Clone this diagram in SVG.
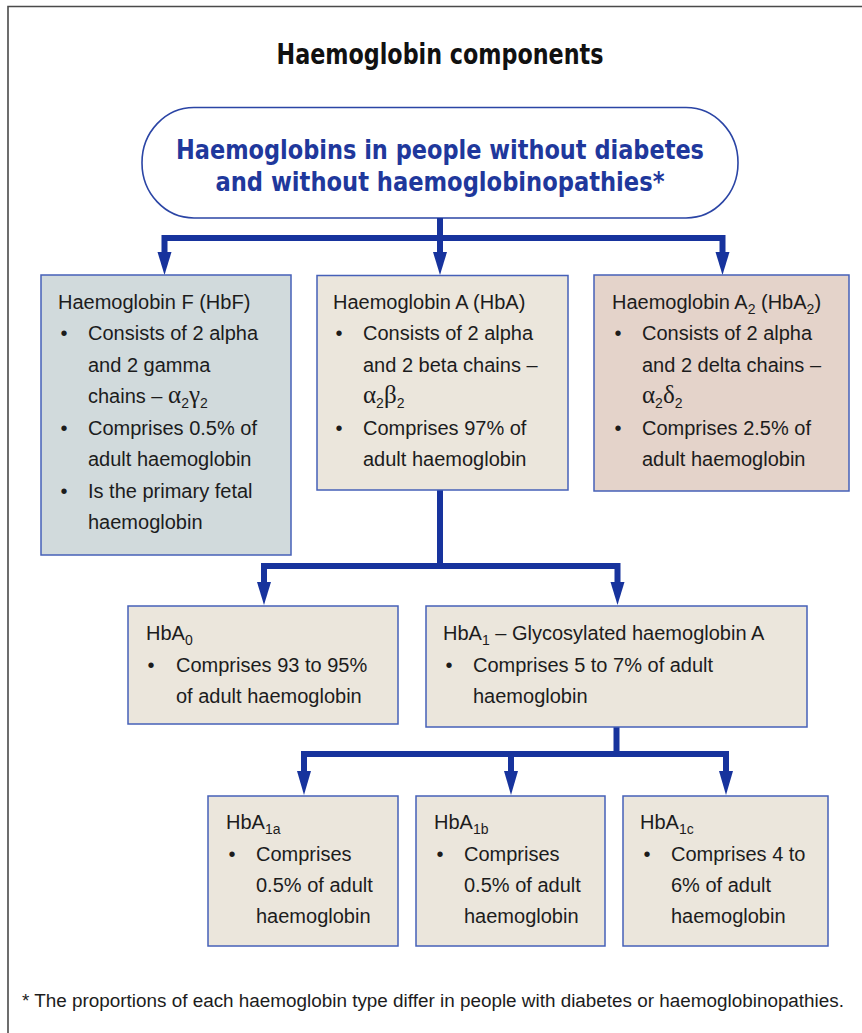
<svg xmlns="http://www.w3.org/2000/svg" width="862" height="1033" viewBox="0 0 862 1033">
<style>
.frame{fill:none;stroke:#4a4a4a;stroke-width:1.6}
.box{stroke:#4660b8;stroke-width:1.5}
.t{font-family:'Liberation Sans',Arial,Helvetica,sans-serif;font-size:20px;fill:#1c1c1c}
.sub{font-size:14px}
.gr{font-family:'Liberation Serif','Times New Roman',serif;font-size:25px}
.bul{text-anchor:middle}
.conn{fill:none;stroke:#17339d;stroke-width:6;stroke-linejoin:miter;stroke-linecap:butt}
.ah{fill:#17339d}
.hd{font-family:'DejaVu Sans Condensed','Liberation Sans Narrow','Liberation Sans',sans-serif;font-stretch:condensed;font-weight:bold;text-anchor:middle}
</style>
<rect width="862" height="1033" fill="#ffffff"/>
<path class="frame" d="M8,1033 V6.5 H862"/>

<text id="title" class="hd" x="440" y="64" font-size="29" fill="#111111" textLength="327" lengthAdjust="spacingAndGlyphs">Haemoglobin components</text>

<g id="node-root">
  <rect x="142" y="107.5" width="596" height="110.5" rx="52" ry="55" fill="#ffffff" stroke="#2b45a5" stroke-width="1.6"/>
  <text class="hd" x="440" y="158.5" font-size="27" fill="#1f389c" textLength="528" lengthAdjust="spacingAndGlyphs">Haemoglobins in people without diabetes</text>
  <text class="hd" x="440" y="190.5" font-size="27" fill="#1f389c" textLength="449" lengthAdjust="spacingAndGlyphs">and without haemoglobinopathies*</text>
</g>

<g id="connectors">
  <path class="conn" d="M440,218 V254"/>
  <path class="conn" d="M164.5,254 V238 H722.5 V254"/>
  <polygon class="ah" points="157.5,252 171.5,252 164.5,275"/>
  <polygon class="ah" points="433,252 447,252 440,275"/>
  <polygon class="ah" points="715.5,252 729.5,252 722.5,275"/>

  <path class="conn" d="M440,490 V566"/>
  <path class="conn" d="M264,584 V566 H617.5 V584"/>
  <polygon class="ah" points="257,582 271,582 264,605"/>
  <polygon class="ah" points="610.5,582 624.5,582 617.5,605"/>

  <path class="conn" d="M616.5,727 V754"/>
  <path class="conn" d="M304,773 V754 H726 V773"/>
  <path class="conn" d="M511,754 V773"/>
  <polygon class="ah" points="297,771 311,771 304,795"/>
  <polygon class="ah" points="504,771 518,771 511,795"/>
  <polygon class="ah" points="719,771 733,771 726,795"/>
</g>

<g id="node-hbf">
  <rect class="box" x="41" y="275" width="250" height="280" fill="#d1dadc"/>
  <text class="t" x="58" y="309">Haemoglobin F (HbF)</text>
  <text class="t bul" x="64" y="340">•</text>
  <text class="t" x="88" y="340">Consists of 2 alpha</text>
  <text class="t" x="88" y="371.5">and 2 gamma</text>
  <text class="t" x="88" y="403">chains – <tspan class="gr">α</tspan><tspan class="sub" dy="5">2</tspan><tspan class="gr" dy="-5">γ</tspan><tspan class="sub" dy="5">2</tspan></text>
  <text class="t bul" x="64" y="434.5">•</text>
  <text class="t" x="88" y="434.5">Comprises 0.5% of</text>
  <text class="t" x="88" y="466">adult haemoglobin</text>
  <text class="t bul" x="64" y="497.5">•</text>
  <text class="t" x="88" y="497.5">Is the primary fetal</text>
  <text class="t" x="88" y="529">haemoglobin</text>
</g>

<g id="node-hba">
  <rect class="box" x="317" y="275.5" width="251" height="214.5" fill="#ebe6dc"/>
  <text class="t" x="333" y="309">Haemoglobin A (HbA)</text>
  <text class="t bul" x="339" y="340">•</text>
  <text class="t" x="363" y="340">Consists of 2 alpha</text>
  <text class="t" x="363" y="371.5">and 2 beta chains –</text>
  <text class="t" x="363" y="403"><tspan class="gr">α</tspan><tspan class="sub" dy="5">2</tspan><tspan class="gr" dy="-5">β</tspan><tspan class="sub" dy="5">2</tspan></text>
  <text class="t bul" x="339" y="434.5">•</text>
  <text class="t" x="363" y="434.5">Comprises 97% of</text>
  <text class="t" x="363" y="466">adult haemoglobin</text>
</g>

<g id="node-hba2">
  <rect class="box" x="594" y="275" width="255" height="216" fill="#e4d3ca"/>
  <text class="t" x="612" y="309">Haemoglobin A<tspan class="sub" dy="5">2</tspan><tspan dy="-5"> (HbA</tspan><tspan class="sub" dy="5">2</tspan><tspan dy="-5">)</tspan></text>
  <text class="t bul" x="618" y="340">•</text>
  <text class="t" x="642" y="340">Consists of 2 alpha</text>
  <text class="t" x="642" y="371.5">and 2 delta chains –</text>
  <text class="t" x="642" y="403"><tspan class="gr">α</tspan><tspan class="sub" dy="5">2</tspan><tspan class="gr" dy="-5">δ</tspan><tspan class="sub" dy="5">2</tspan></text>
  <text class="t bul" x="618" y="434.5">•</text>
  <text class="t" x="642" y="434.5">Comprises 2.5% of</text>
  <text class="t" x="642" y="466">adult haemoglobin</text>
</g>

<g id="node-hba0">
  <rect class="box" x="128" y="606" width="270" height="118" fill="#ebe6dc"/>
  <text class="t" x="146" y="640">HbA<tspan class="sub" dy="5">0</tspan></text>
  <text class="t bul" x="151" y="671.5">•</text>
  <text class="t" x="176" y="671.5">Comprises 93 to 95%</text>
  <text class="t" x="176" y="703">of adult haemoglobin</text>
</g>

<g id="node-hba1">
  <rect class="box" x="426" y="606" width="381" height="121" fill="#ebe6dc"/>
  <text class="t" x="443" y="640">HbA<tspan class="sub" dy="5">1</tspan><tspan dy="-5"> – Glycosylated haemoglobin A</tspan></text>
  <text class="t bul" x="449" y="671.5">•</text>
  <text class="t" x="473" y="671.5">Comprises 5 to 7% of adult</text>
  <text class="t" x="473" y="703">haemoglobin</text>
</g>

<g id="node-hba1a">
  <rect class="box" x="208" y="796" width="190" height="150" fill="#ebe6dc"/>
  <text class="t" x="226" y="829">HbA<tspan class="sub" dy="5">1a</tspan></text>
  <text class="t bul" x="232" y="861">•</text>
  <text class="t" x="256" y="861">Comprises</text>
  <text class="t" x="256" y="892">0.5% of adult</text>
  <text class="t" x="256" y="923">haemoglobin</text>
</g>

<g id="node-hba1b">
  <rect class="box" x="416" y="796" width="189" height="150" fill="#ebe6dc"/>
  <text class="t" x="434" y="829">HbA<tspan class="sub" dy="5">1b</tspan></text>
  <text class="t bul" x="440" y="861">•</text>
  <text class="t" x="464" y="861">Comprises</text>
  <text class="t" x="464" y="892">0.5% of adult</text>
  <text class="t" x="464" y="923">haemoglobin</text>
</g>

<g id="node-hba1c">
  <rect class="box" x="623" y="796" width="205" height="150" fill="#ebe6dc"/>
  <text class="t" x="640" y="829">HbA<tspan class="sub" dy="5">1c</tspan></text>
  <text class="t bul" x="647" y="861">•</text>
  <text class="t" x="671" y="861">Comprises 4 to</text>
  <text class="t" x="671" y="892">6% of adult</text>
  <text class="t" x="671" y="923">haemoglobin</text>
</g>

<text id="footnote" class="t" x="22" y="1007" textLength="822" lengthAdjust="spacingAndGlyphs" style="font-size:18px">* The proportions of each haemoglobin type differ in people with diabetes or haemoglobinopathies.</text>
</svg>
